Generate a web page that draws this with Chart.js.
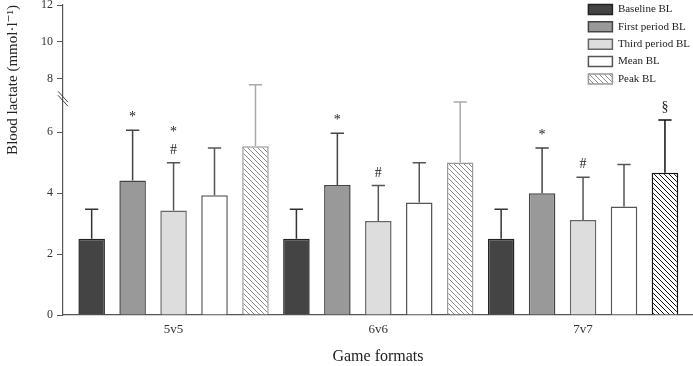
<!DOCTYPE html>
<html>
<head>
<meta charset="utf-8">
<script src="https://cdn.jsdelivr.net/npm/chart.js"></script>
<style>
  html, body { margin: 0; padding: 0; background: #fff; }
  canvas { display: block; }
</style>
</head>
<body>
<canvas id="myChart" width="693" height="366"></canvas>
<script>
// data block
const formats = ['5v5', '6v6', '7v7'];
const seriesNames = ['Baseline BL', 'First period BL', 'Third period BL', 'Mean BL', 'Peak BL'];
const baseline = [2.50, 2.50, 2.50];
const baselineSD = [0.97, 0.97, 0.97];
const firstPeriod = [4.42, 4.27, 4.00];
const firstPeriodSD = [1.65, 1.70, 1.48];
const thirdPeriod = [3.43, 3.09, 3.12];
const thirdPeriodSD = [1.57, 1.16, 1.40];
const meanBL = [3.93, 3.69, 3.56];
const meanSD = [1.55, 1.31, 1.38];
const peakBL = [5.54, 5.01, 4.67];
const peakSD = [2.11, 1.98, 1.73];
// significance marks, listed top to bottom
const firstMarks = [['*'], ['*'], ['*']];
const thirdMarks = [['*', '#'], ['#'], ['#']];
const peakMarks = [[], [], ['§']];
const yTicks = [0, 2, 4, 6, 8, 10, 12];
const yBreak = 7;

Chart.defaults.font.family = '"Liberation Serif", "DejaVu Serif", serif';

// y axis with a break: 0..7 gets the lower part, 7..12 a squeezed upper part
const LOWER_SHARE = 0.6877;
const UPPER_START = 0.7042;
class BrokenScale extends Chart.LinearScale {
    getPixelForValue(v) {
        if (v === null || isNaN(v)) return NaN;
        let d;
        if (v <= yBreak) d = (v - this.min) / (yBreak - this.min) * LOWER_SHARE;
        else d = UPPER_START + (v - yBreak) / (this.max - yBreak) * (1 - UPPER_START);
        return this.getPixelForDecimal(d);
    }
    getValueForPixel(p) {
        const d = this.getDecimalForPixel(p);
        if (d <= LOWER_SHARE) return this.min + d / LOWER_SHARE * (yBreak - this.min);
        return yBreak + Math.max(0, d - UPPER_START) / (1 - UPPER_START) * (this.max - yBreak);
    }
}
BrokenScale.id = 'broken';
BrokenScale.defaults = Chart.LinearScale.defaults;

// category axis that leaves a little room at both ends
class GroupScale extends Chart.CategoryScale {
    configure() {
        super.configure();
        this._startValue = -0.54;
        this._valueRange = 3.077;
    }
}
GroupScale.id = 'group';
GroupScale.defaults = Chart.CategoryScale.defaults;

Chart.register(BrokenScale, GroupScale);

function hatch(color) {
    const c = document.createElement('canvas');
    c.width = 5; c.height = 5;
    const g = c.getContext('2d');
    g.fillStyle = '#fff';
    g.fillRect(0, 0, 5, 5);
    g.strokeStyle = color;
    g.lineWidth = 1;
    g.beginPath();
    g.moveTo(-1, -1); g.lineTo(6, 6);
    g.moveTo(-1, 4); g.lineTo(1, 6);
    g.moveTo(4, -1); g.lineTo(6, 1);
    g.stroke();
    return g.createPattern(c, 'repeat');
}
const lightHatch = hatch('#8c8c8c');
const darkHatch = hatch('#111');

const errorBars = {
    id: 'errorBars',
    afterDatasetsDraw(chart) {
        const ctx = chart.ctx;
        const y = chart.scales.y;
        chart.data.datasets.forEach((ds, i) => {
            const meta = chart.getDatasetMeta(i);
            meta.data.forEach((bar, j) => {
                const top = y.getPixelForValue(ds.data[j] + ds.sd[j]);
                const col = Array.isArray(ds.errColor) ? ds.errColor[j] : ds.errColor;
                const half = bar.width / 4;
                ctx.save();
                ctx.strokeStyle = col;
                ctx.lineWidth = 1.5;
                ctx.beginPath();
                ctx.moveTo(bar.x, bar.y);
                ctx.lineTo(bar.x, top);
                ctx.moveTo(bar.x - half, top);
                ctx.lineTo(bar.x + half, top);
                ctx.stroke();
                const marks = ds.marks ? ds.marks[j] : [];
                ctx.fillStyle = '#222';
                ctx.font = '14px "Liberation Serif"';
                ctx.textAlign = 'center';
                ctx.textBaseline = 'alphabetic';
                marks.slice().reverse().forEach((m, k) => {
                    ctx.fillText(m, bar.x, top - 9 - k * 18);
                });
                ctx.restore();
            });
        });
    },
    afterDraw(chart) {
        // the two slashes on the y axis
        const ctx = chart.ctx;
        const y = chart.scales.y;
        const yc = (y.getPixelForValue(yBreak) + y.getPixelForDecimal(UPPER_START)) / 2;
        const x0 = y.right;
        ctx.save();
        ctx.strokeStyle = '#444';
        ctx.lineWidth = 1;
        ctx.beginPath();
        [-2, 2].forEach(d => {
            ctx.moveTo(x0 - 5, yc - 6 + d);
            ctx.lineTo(x0 + 5, yc + 5 + d);
        });
        ctx.stroke();
        ctx.restore();
    }
};

const legendPlace = {
    id: 'legendPlace',
    afterLayout(chart) {
        const lg = chart.legend;
        lg.left = 582; lg.right = 693;
        lg.top = -2.5; lg.bottom = 120;
        lg.width = lg.right - lg.left;
        lg.height = lg.bottom - lg.top;
    }
};

let data = {
    labels: formats,
    datasets: [{
        label: seriesNames[0],
        data: baseline,
        sd: baselineSD,
        backgroundColor: '#444',
        borderColor: '#222',
        errColor: '#333',
        borderWidth: 1.5
    },
    {
        label: seriesNames[1],
        data: firstPeriod,
        sd: firstPeriodSD,
        marks: firstMarks,
        backgroundColor: '#999',
        borderColor: '#444',
        errColor: '#444',
        borderWidth: 1.5
    },
    {
        label: seriesNames[2],
        data: thirdPeriod,
        sd: thirdPeriodSD,
        marks: thirdMarks,
        backgroundColor: '#ddd',
        borderColor: '#666',
        errColor: '#555',
        borderWidth: 1.5
    },
    {
        label: seriesNames[3],
        data: meanBL,
        sd: meanSD,
        backgroundColor: '#fff',
        borderColor: '#555',
        errColor: '#555',
        borderWidth: 1.5
    },
    {
        label: seriesNames[4],
        data: peakBL,
        sd: peakSD,
        marks: peakMarks,
        backgroundColor: [lightHatch, lightHatch, darkHatch],
        borderColor: ['#999', '#999', '#111'],
        errColor: ['#aaa', '#aaa', '#111'],
        borderWidth: 1.5
    }]
};

let config = {
    type: 'bar',
    data,
    options: {
        responsive: false,
        animation: false,
        layout: { padding: { top: 5, right: 0, left: 0, bottom: 0 } },
        datasets: { bar: { categoryPercentage: 1, barPercentage: 0.648 } },
        scales: {
            x: {
                type: 'group',
                offset: true,
                grid: { display: false, drawTicks: false },
                border: { display: true, color: '#555', width: 1.2 },
                ticks: { color: '#333', padding: 7, font: { size: 13 } },
                title: { display: true, text: 'Game formats', color: '#222', font: { size: 16 }, padding: { top: 0, bottom: 0 } },
                afterFit: s => { s.height = 51; s.paddingLeft = 0; s.paddingRight = 0; }
            },
            y: {
                type: 'broken',
                min: 0,
                max: 12,
                afterBuildTicks: s => { s.ticks = yTicks.map(v => ({ value: v })); },
                grid: { drawOnChartArea: false, drawTicks: true, tickLength: 6, color: '#555' },
                border: { display: true, color: '#555', width: 1.2 },
                ticks: { color: '#333', padding: 4, font: { size: 12 } },
                title: { display: true, text: 'Blood lactate (mmol·l⁻¹)', align: 'end', color: '#222', font: { size: 15 }, padding: { top: 4, bottom: 0 } },
                afterFit: s => { s.width = 63; s.paddingTop = 0; s.paddingBottom = 0; }
            }
        },
        plugins: {
            legend: {
                position: 'chartArea',
                align: 'start',
                labels: {
                    boxWidth: 24,
                    boxHeight: 10,
                    padding: 6.4,
                    color: '#222',
                    font: { size: 11 }
                }
            },
            tooltip: { enabled: false }
        }
    },
    plugins: [errorBars, legendPlace]
};

let myChart = new Chart(document.getElementById('myChart'), config);
</script>
</body>
</html>
